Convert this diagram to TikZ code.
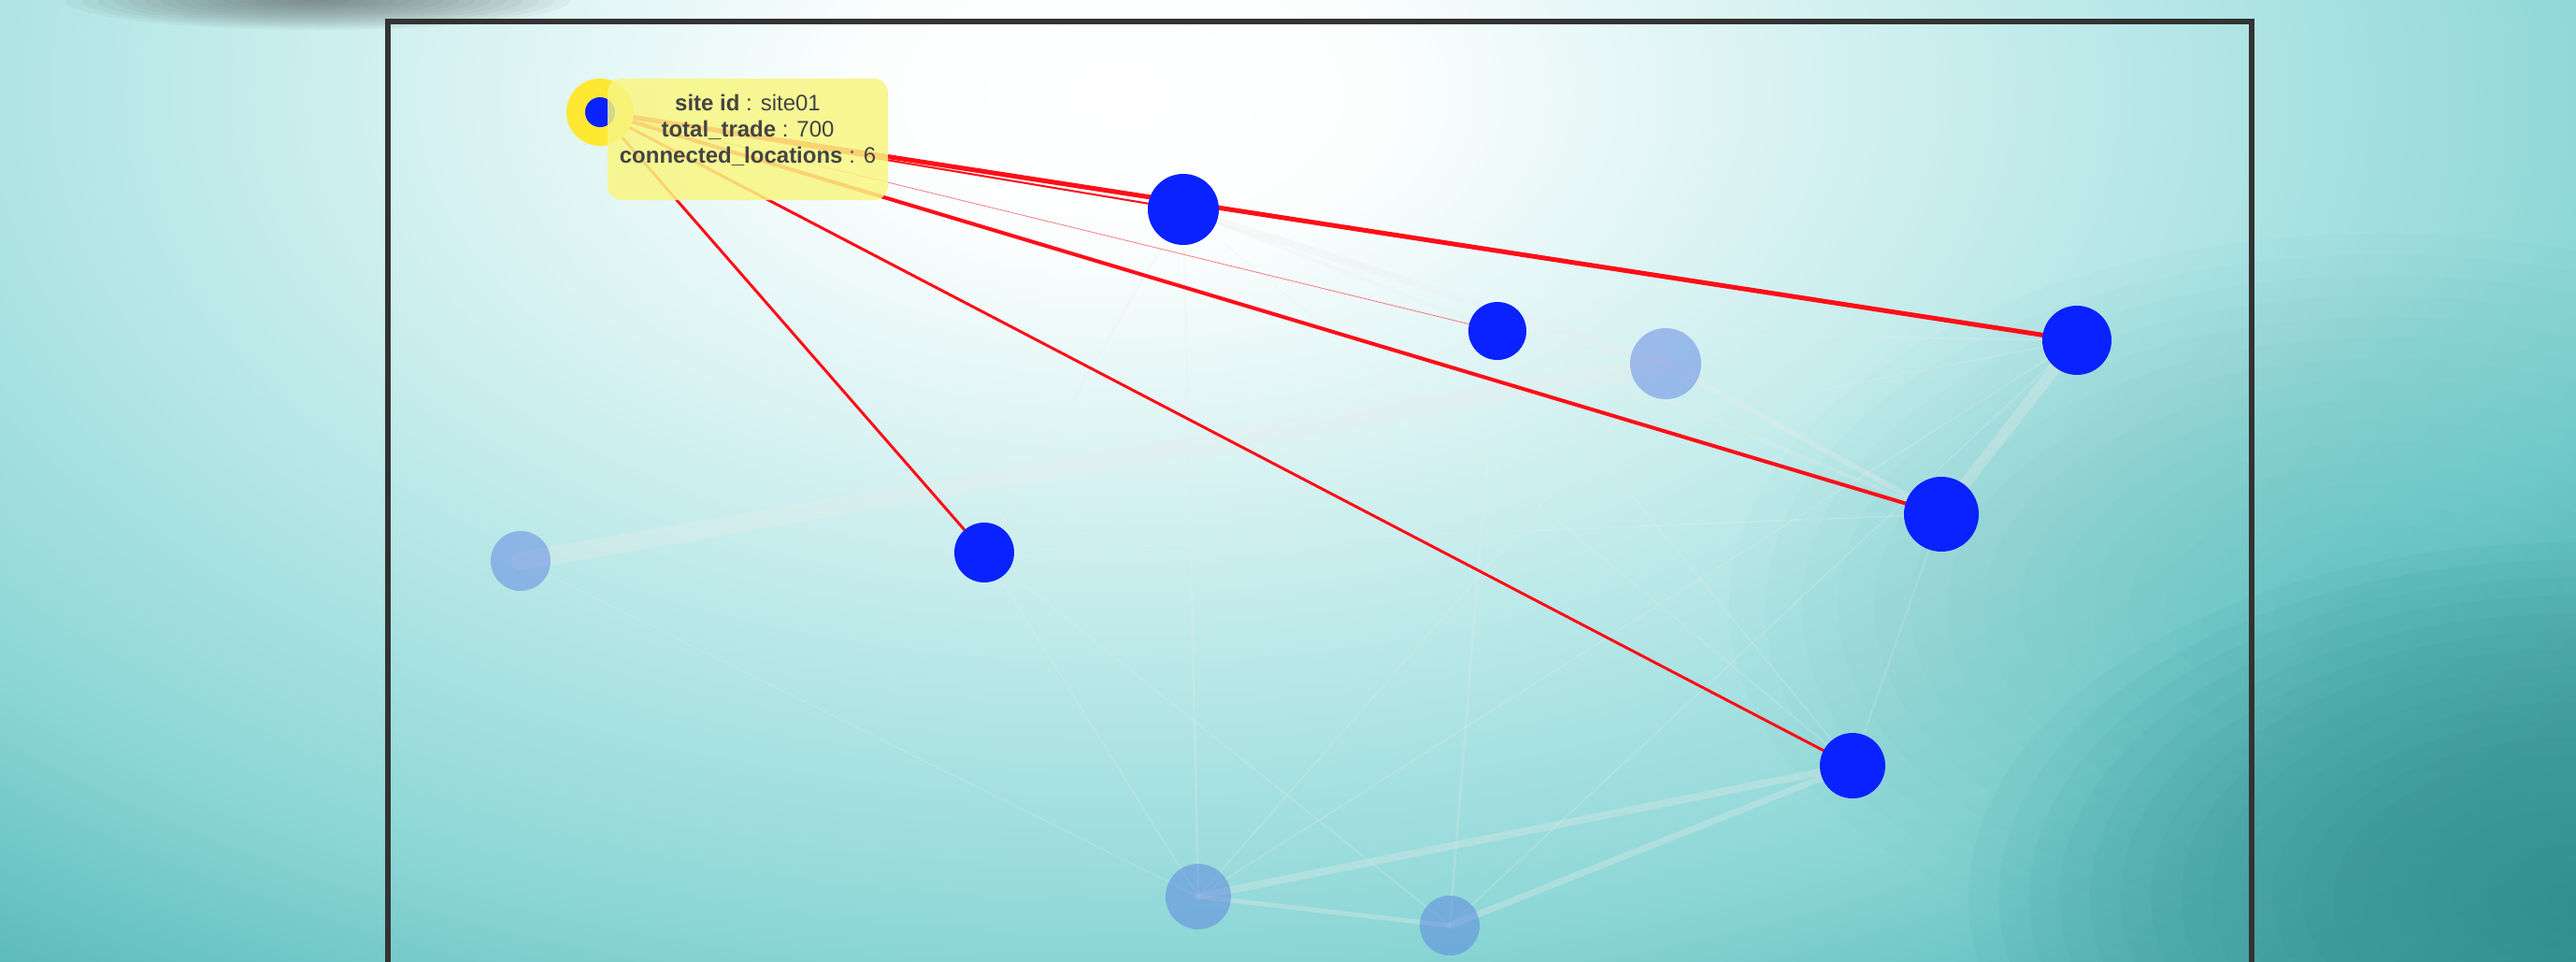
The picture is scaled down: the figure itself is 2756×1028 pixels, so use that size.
\documentclass[tikz,border=0pt]{standalone}
\usepackage{fontspec}
\setmainfont{Liberation Sans}
\pgfdeclarelayer{bg}
\pgfdeclarelayer{edges}
\pgfdeclarelayer{top}
\pgfsetlayers{bg,edges,main,top}
\definecolor{nodeblue}{RGB}{10,34,255}
\definecolor{fadeblue}{RGB}{80,120,225}
\definecolor{haloyellow}{RGB}{253,232,50}
\definecolor{tipyellow}{RGB}{248,246,130}
\definecolor{tiptext}{RGB}{68,68,68}
\definecolor{edgered}{RGB}{255,14,24}
\definecolor{edgegray}{RGB}{236,236,236}
\definecolor{framegray}{RGB}{51,51,51}
\definecolor{bgDeep}{RGB}{44,138,138}
\definecolor{bgTeal}{RGB}{70,180,180}
\definecolor{shadowgray}{RGB}{80,88,88}
\definecolor{rA}{RGB}{252,254,254}
\definecolor{rB}{RGB}{228,246,246}
\definecolor{rC}{RGB}{200,237,237}
\definecolor{rD}{RGB}{170,226,226}
\definecolor{rE}{RGB}{140,214,214}
\definecolor{rF}{RGB}{100,192,192}
\definecolor{rG}{RGB}{60,160,160}
\pgfdeclareradialshading{bgradial}{\pgfpointorigin}{color(0bp)=(white); color(3bp)=(rA); color(6bp)=(rB); color(9.5bp)=(rC); color(13.25bp)=(rD); color(17bp)=(rE); color(20.5bp)=(rF); color(25bp)=(rG); color(50bp)=(rG)}
% soft blob: colour, cx, cy, rx, ry, peak opacity, layers
\newcommand\softblob[7]{%
  \pgfmathsetmacro\blobop{1-(1-#6)^(1/#7)}%
  \foreach \k in {1,...,#7}{%
    \fill[#1, opacity=\blobop] (#2,#3) ellipse ({#4/#7*\k} and {#5/#7*\k});}%
}
\begin{document}
\begin{tikzpicture}[x=1pt,y=-1pt,
  site/.style={circle, fill=nodeblue, inner sep=0pt, draw=none},
  faded/.style={circle, fill=fadeblue, fill opacity=0.45, inner sep=0pt, draw=none},
  redge/.style={draw=edgered, line cap=round},
  gedge/.style={draw=edgegray, draw opacity=0.22, line cap=round},
  gband/.style={draw=edgegray, draw opacity=0.3, line cap=round},
]
\useasboundingbox (0,0) rectangle (2756,1028);
% ---------------- nodes ----------------
\node[circle, fill=haloyellow, minimum size=72pt, inner sep=0pt] (s01halo) at (642,120) {};
\node[site, minimum size=32pt] (s01) at (642,120) {};
\node[site, minimum size=76pt] (A) at (1266,224) {};
\node[site, minimum size=62pt] (B) at (1602,354) {};
\node[faded, minimum size=76pt] (C) at (1782,389) {};
\node[site, minimum size=74pt] (D) at (2222,364) {};
\node[site, minimum size=80pt] (E) at (2077,550) {};
\node[site, minimum size=64pt] (F) at (1053,591) {};
\node[faded, minimum size=64pt] (G) at (557,600) {};
\node[site, minimum size=70pt] (H) at (1982,819) {};
\node[faded, minimum size=70pt] (I) at (1282,959) {};
\node[faded, minimum size=64pt] (J) at (1551,990) {};
% ---------------- background ----------------
\begin{pgfonlayer}{bg}
\begin{scope}
\clip (0,0) rectangle (2756,1028);
\shade[shading=bgradial] (-1180,-1260) rectangle (3580,1460);
\softblob{bgTeal}{2550}{650}{700}{400}{0.45}{18}
\softblob{bgDeep}{2756}{960}{650}{380}{0.7}{20}
\softblob{shadowgray}{340}{0}{270}{32}{0.6}{16}
\draw[framegray, line width=6pt, line join=miter] (415,1060) -- (415,23) -- (2409,23) -- (2409,1060);
\end{scope}
\end{pgfonlayer}
% ---------------- edges ----------------
\begin{pgfonlayer}{edges}
\draw[gband, line width=20pt] (G.center) -- (C.center);
\draw[gband, line width=8pt] (A.center) -- (C.center);
\draw[gedge, line width=4pt] (A.center) -- (B.center);
\draw[gedge, line width=3pt] (A.center) -- (I.center);
\draw[gedge, line width=3pt] (A.center) -- (F.center);
\draw[gedge, line width=2pt] (A.center) -- (H.center);
\draw[gedge, line width=3pt] (B.center) -- (J.center);
\draw[gedge, line width=2pt] (B.center) -- (F.center);
\draw[gedge, line width=2pt] (B.center) -- (D.center);
\draw[gedge, line width=3pt] (B.center) -- (C.center);
\draw[gedge, line width=4pt] (B.center) -- (E.center);
\draw[gedge, line width=2pt] (B.center) -- (H.center);
\draw[gband, line width=6pt] (C.center) -- (E.center);
\draw[gedge, line width=2pt] (C.center) -- (I.center);
\draw[gband, line width=12pt] (D.center) -- (E.center);
\draw[gedge, line width=2pt] (D.center) -- (I.center);
\draw[gedge, line width=2pt] (D.center) -- (J.center);
\draw[gedge, line width=1.5pt] (F.center) -- (D.center);
\draw[gedge, line width=2pt] (E.center) -- (F.center);
\draw[gedge, line width=2pt] (E.center) -- (H.center);
\draw[gedge, line width=2pt] (F.center) -- (I.center);
\draw[gedge, line width=2pt] (F.center) -- (J.center);
\draw[gedge, line width=1.5pt] (G.center) -- (I.center);
\draw[gband, line width=8pt] (I.center) -- (H.center);
\draw[gband, line width=7pt] (J.center) -- (H.center);
\draw[gband, line width=5pt] (I.center) -- (J.center);
% red edges of site01
\draw[redge, line width=0.8pt, draw opacity=0.55] (s01.center) -- (B.center);
\draw[redge, line width=2pt] (s01.center) -- (A.center);
\draw[redge, line width=3pt] (s01.center) -- (F.center);
\draw[redge, line width=3pt] (s01.center) -- (H.center);
\draw[redge, line width=4pt] (s01.center) -- (E.center);
\draw[redge, line width=5pt] (s01.center) -- (D.center);
\end{pgfonlayer}
% ---------------- tooltip ----------------
\begin{pgfonlayer}{top}
\node[fill=tipyellow, fill opacity=0.85, rounded corners=15pt, minimum width=300pt, minimum height=130pt, inner sep=0pt] (tip) at (800,149) {};
\node[text=tiptext, align=center, inner sep=0pt, font=\fontsize{24}{28}\selectfont] (tiptxt) at ([yshift=10pt]tip.center)
  {\textbf{site id} : site01\\\textbf{total\_trade} : 700\\\textbf{connected\_locations} : 6};
\end{pgfonlayer}
\end{tikzpicture}
\end{document}
